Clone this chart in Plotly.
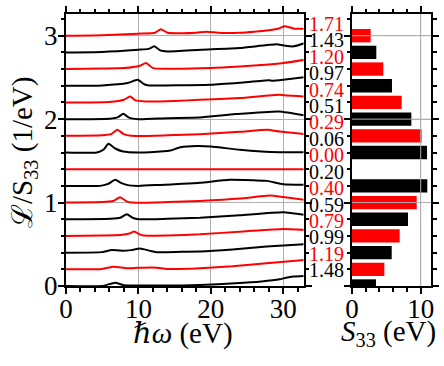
import plotly.graph_objects as go

# --- data ---
offsets = [0.2 * i for i in range(16)]
labels = ["1.48", "1.19", "0.99", "0.79", "0.59", "0.40", "0.20", "0.00",
          "0.06", "0.29", "0.51", "0.74", "0.97", "1.20", "1.43", "1.71"]
s33 = [3.49, 4.71, 5.78, 6.94, 8.15, 9.42, 10.96, 0.0,
       10.92, 10.14, 8.64, 7.23, 5.82, 4.56, 3.54, 2.72]

# spectra (energy in eV, value above each curve's offset, in 1/eV)
x0 = [0, 5, 6.8, 8, 12, 16, 18.5, 23.4, 27, 29.5, 30.4, 31.4, 33]
y0 = [0, 0, 0.040, 0.008, 0.006, 0.006, 0.012, 0.032, 0.054, 0.080, 0.100, 0.114, 0.120]
x1 = [0, 5, 6.55, 8.4, 10, 12.5, 13.9, 17, 18.5, 23, 27.7, 33]
y1 = [0, 0.004, 0.032, 0.012, 0.018, 0.020, 0.004, 0.006, 0.012, 0.036, 0.072, 0.113]
x2 = [0, 5, 6.3, 7.5, 9, 10.2, 11.5, 12.5, 16, 18.5, 23, 27.7, 33]
y2 = [0, 0.006, 0.032, 0.024, 0.030, 0.048, 0.024, 0.006, 0.010, 0.012, 0.036, 0.072, 0.100]
x3 = [0, 5, 7.5, 8.8, 9.4, 10.2, 10.7, 14, 18.5, 24.5, 30, 33]
y3 = [0, 0.006, 0.012, 0.030, 0.052, 0.018, 0.004, 0.006, 0.020, 0.054, 0.084, 0.072]
x4 = [0, 6.1, 7.5, 8.4, 9.2, 10, 14, 18.5, 24, 30, 33]
y4 = [0, 0.006, 0.018, 0.060, 0.018, 0, 0.006, 0.018, 0.048, 0.084, 0.053]
x5 = [0, 5, 6.5, 7.47, 8.3, 9.1, 14, 18.5, 24, 28.2, 30, 33]
y5 = [0, 0.006, 0.018, 0.064, 0.018, 0, 0.006, 0.020, 0.048, 0.084, 0.066, 0.032]
x6 = [0, 4.7, 5.8, 6.8, 7.6, 8.4, 10, 13, 16, 18.5, 22.6, 26, 27.8, 30, 33]
y6 = [0, 0, 0.024, 0.072, 0.036, 0.012, 0, 0.012, 0.024, 0.036, 0.072, 0.066, 0.060, 0.020, 0.012]
x7 = [0, 33]
y7 = [0, 0]
x8 = [0, 4.25, 5.2, 5.86, 6.8, 7.9, 10, 11.6, 14.4, 15.8, 18.1, 20, 24, 27, 29.5, 33]
y8 = [0, 0, 0.036, 0.104, 0.048, 0.012, 0, 0.004, 0.024, 0.064, 0.078, 0.072, 0.032, 0.012, 0.004, 0.004]
x9 = [0, 5, 6.3, 7.1, 7.9, 9, 14, 18.5, 24, 27.8, 29.5, 33]
y9 = [0, 0.006, 0.024, 0.072, 0.024, 0, 0.006, 0.020, 0.048, 0.072, 0.052, 0.020]
x10 = [0, 6, 7.2, 7.9, 8.7, 10, 14, 18.5, 23.4, 29.4, 33]
y10 = [0, 0.006, 0.024, 0.064, 0.018, 0, 0.012, 0.020, 0.060, 0.092, 0.044]
x11 = [0, 6, 8, 8.85, 9.6, 11, 15, 18.5, 24, 29.5, 30.5, 33]
y11 = [0, 0.006, 0.032, 0.072, 0.024, 0.012, 0.018, 0.032, 0.054, 0.092, 0.084, 0.072]
x12 = [0, 5, 8.5, 9.9, 10.8, 11.5, 16, 20, 24, 28, 28.5, 30, 33]
y12 = [0, 0.004, 0.032, 0.072, 0.018, 0.004, 0.006, 0.012, 0.036, 0.066, 0.060, 0.072, 0.104]
x13 = [0, 5, 8, 10.2, 11.05, 12, 14, 20, 24, 27, 30, 33]
y13 = [0, 0.006, 0.012, 0.040, 0.072, 0.012, 0.004, 0.012, 0.030, 0.048, 0.072, 0.112]
x14 = [0, 5, 10, 11.4, 12.2, 13, 14, 18.6, 24, 29.1, 30, 31.4, 33]
y14 = [0, 0.006, 0.032, 0.042, 0.072, 0.024, 0.012, 0.032, 0.052, 0.096, 0.084, 0.072, 0.112]
x15 = [0, 5, 10, 12.3, 13.1, 14, 16, 18, 19.4, 21, 24, 26, 28, 29.5, 30.2, 31.5, 33]
y15 = [0, 0.006, 0.024, 0.036, 0.078, 0.036, 0.030, 0.036, 0.048, 0.036, 0.036, 0.048, 0.066, 0.090, 0.114, 0.084, 0.084]

xs = [x0, x1, x2, x3, x4, x5, x6, x7, x8, x9, x10, x11, x12, x13, x14, x15]
ys = [y0, y1, y2, y3, y4, y5, y6, y7, y8, y9, y10, y11, y12, y13, y14, y15]

RED = "#ff0000"
BLACK = "#000000"
GRID = "#b0b0b0"
FONT = "Liberation Serif, DejaVu Serif, serif"
colors = [BLACK if i % 2 == 0 else RED for i in range(16)]

fig = go.Figure()

for i in range(16):
    fig.add_trace(go.Scatter(
        x=xs[i], y=[v + offsets[i] for v in ys[i]],
        mode="lines", line=dict(color=colors[i], width=2, shape="spline", smoothing=0.5),
        xaxis="x", yaxis="y", showlegend=False,
    ))

fig.add_trace(go.Bar(
    x=s33, y=offsets, orientation="h", width=0.16,
    marker=dict(color=colors, line=dict(width=0)),
    xaxis="x2", yaxis="y2", showlegend=False,
))

# labels between the panels
for i in range(16):
    fig.add_annotation(
        x=326 / 444, xref="paper", y=0.19 + i * 0.1967, yref="y",
        text=labels[i], showarrow=False, xanchor="center", yanchor="middle",
        font=dict(family=FONT, size=20, color=colors[i]),
    )

# gridlines on top of the bars
for yv in [1, 2, 3]:
    fig.add_shape(type="line", xref="x2", yref="y2", x0=0, x1=11.5, y0=yv, y1=yv,
                  line=dict(color=GRID, width=1), layer="above")
fig.add_shape(type="line", xref="x2", yref="y2", x0=10, x1=10, y0=0, y1=3.26,
              line=dict(color=GRID, width=1), layer="above")

minor_ticks = dict(ticks="outside", ticklen=3.5, tickwidth=1.5, tickcolor="black", showgrid=False)
axis_common = dict(
    showline=True, linecolor="black", linewidth=2, mirror="ticks",
    ticks="outside", ticklen=6, tickwidth=1.5, tickcolor="black",
    showgrid=True, gridcolor=GRID, gridwidth=1, zeroline=False, automargin=False,
    tickfont=dict(family=FONT, size=27, color="black"),
)

fig.update_layout(
    width=444, height=366,
    margin=dict(l=0, r=0, t=0, b=0, autoexpand=False),
    paper_bgcolor="white", plot_bgcolor="white",
    xaxis=dict(domain=[66 / 444, 303.5 / 444], range=[0, 32.8], tickvals=[0, 10, 20, 30],
               ticklabelstandoff=-8,
               minor=dict(dtick=2, tick0=0, **minor_ticks), anchor="y", **axis_common),
    yaxis=dict(domain=[1 - 286 / 366, 1 - 14 / 366], range=[0, 3.26], tickvals=[0, 1, 2, 3],
               ticklabelstandoff=-5,
               minor=dict(dtick=0.2, tick0=0, **minor_ticks), anchor="x", **axis_common),
    xaxis2=dict(domain=[352 / 444, 431 / 444], range=[0, 11.5], tickvals=[0, 10],
                ticklabelstandoff=-8,
                minor=dict(dtick=2, tick0=0, **minor_ticks), anchor="y2", **axis_common),
    yaxis2=dict(domain=[1 - 286 / 366, 1 - 14 / 366], range=[0, 3.26], tickvals=[0, 1, 2, 3],
                showticklabels=False,
                minor=dict(dtick=0.2, tick0=0, **minor_ticks), anchor="x2", **axis_common),
)

# axis titles
title_font = dict(family=FONT, size=29, color="black")
fig.add_annotation(x=183 / 444, y=1 - 333 / 366, xref="paper", yref="paper",
                   xanchor="center", yanchor="middle",
                   text="<i>ℏω</i> (eV)", showarrow=False, font=title_font)
fig.add_annotation(x=388 / 444, y=1 - 333 / 366, xref="paper", yref="paper",
                   xanchor="center", yanchor="middle",
                   text="<i>S</i><sub>33</sub> (eV)", showarrow=False, font=title_font)
fig.add_annotation(x=23 / 444, y=1 - 153 / 366, xref="paper", yref="paper",
                   xanchor="center", yanchor="middle",
                   text="<span style='font-family:DejaVu Serif'>ℒ</span>/S<sub>33</sub> (1/eV)",
                   showarrow=False, textangle=-90, font=title_font)

fig.write_html("out.html", config={"displayModeBar": False},
               post_script="document.body.style.margin='0px';")
